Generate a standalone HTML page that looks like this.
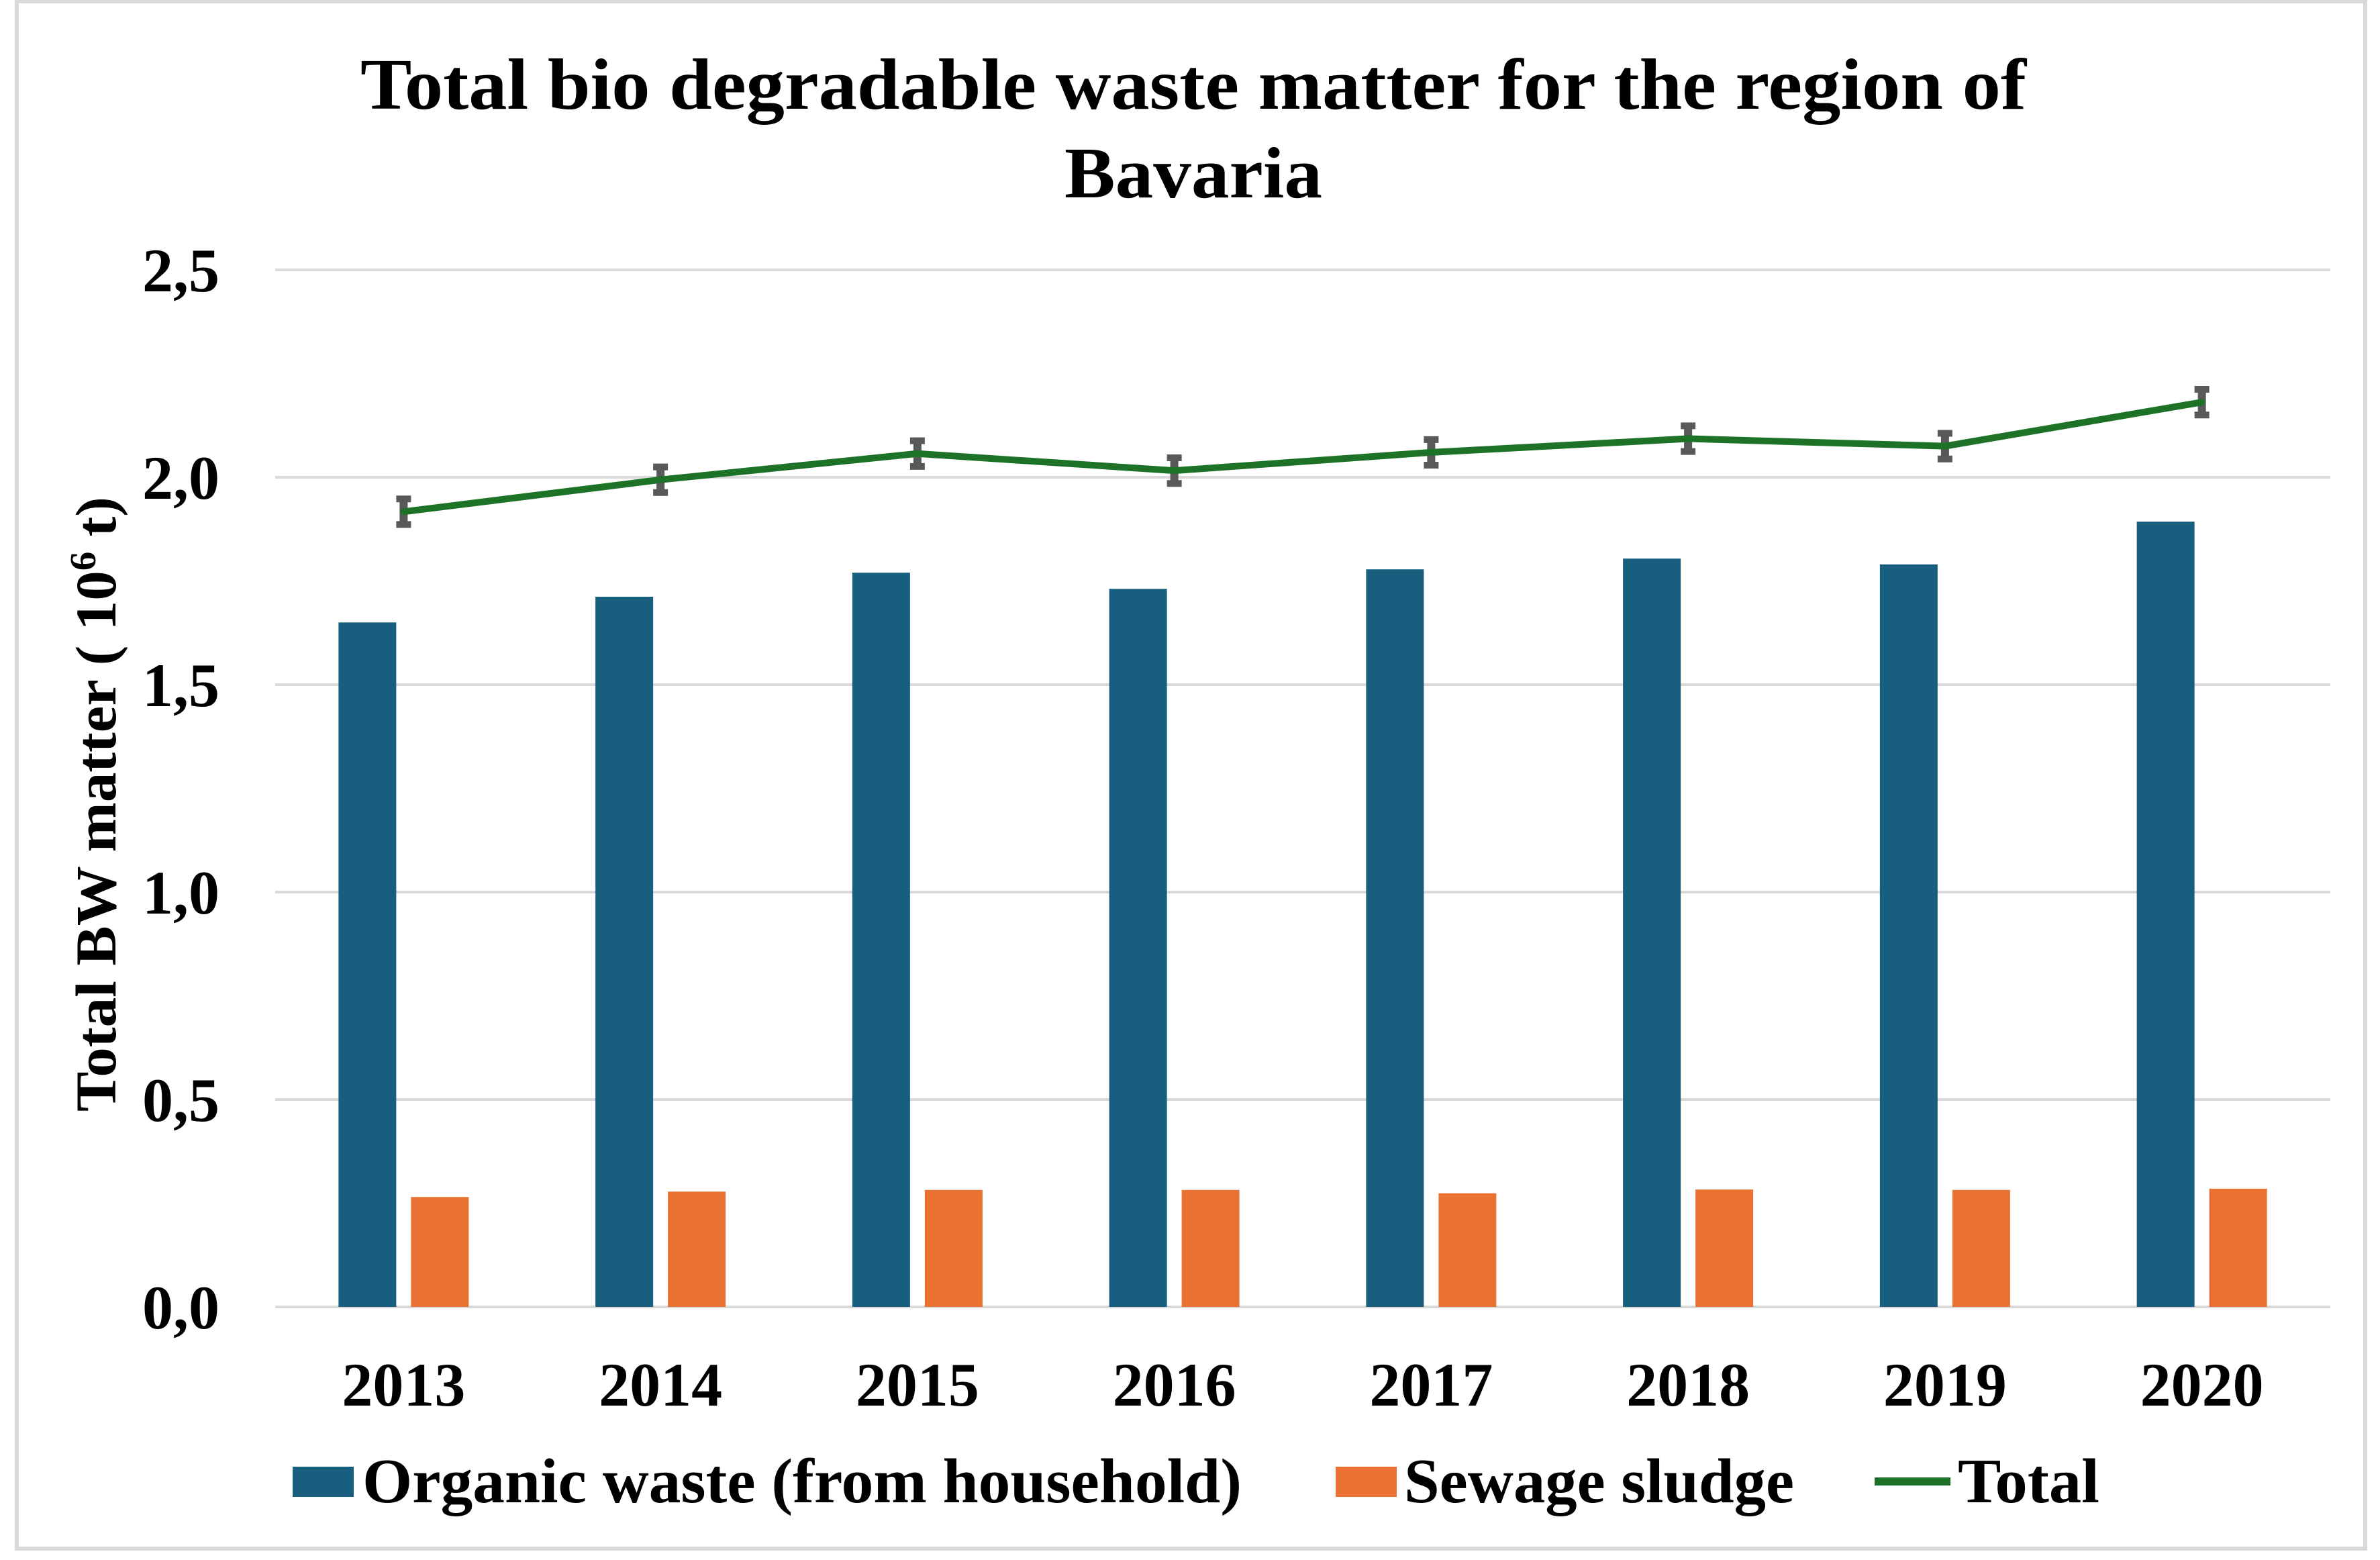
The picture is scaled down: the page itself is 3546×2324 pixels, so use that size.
<!DOCTYPE html>
<html><head><meta charset="utf-8"><style>
html,body{margin:0;padding:0;background:#fff;}
svg{display:block;font-family:"Liberation Serif",serif;font-weight:bold;}
</style></head><body>
<svg id="chart" width="3546" height="2324" viewBox="0 0 3546 2324">
<rect x="25" y="2" width="3499" height="2305" fill="#fff" stroke="#d9d9d9" stroke-width="6"/>
<text x="1778" y="162" font-size="108" text-anchor="middle" textLength="2482" lengthAdjust="spacingAndGlyphs">Total bio degradable waste matter for the region of</text>
<text x="1778" y="294" font-size="108" text-anchor="middle" textLength="384" lengthAdjust="spacingAndGlyphs">Bavaria</text>
<g id="grid"></g><g id="yticks"></g><g id="bars"></g><g id="line"></g><g id="xticks"></g>
<text transform="translate(172,1198) rotate(-90)" font-size="86" text-anchor="middle" textLength="916" lengthAdjust="spacingAndGlyphs">Total BW matter ( 10<tspan baseline-shift="super" font-size="55">6</tspan> t)</text>
<g>
<rect x="436" y="2185" width="91" height="45" fill="#175E7F"/>
<text x="540" y="2238" font-size="94" textLength="1310" lengthAdjust="spacingAndGlyphs">Organic waste (from household)</text>
<rect x="1990" y="2185" width="91" height="45" fill="#E97132"/>
<text x="2092" y="2238" font-size="94" textLength="581" lengthAdjust="spacingAndGlyphs">Sewage sludge</text>
<line x1="2793" y1="2207" x2="2906" y2="2207" stroke="#1E7227" stroke-width="12"/>
<text x="2917" y="2238" font-size="94" textLength="211" lengthAdjust="spacingAndGlyphs">Total</text>
</g>
</svg>
<script>
const categories=["2013","2014","2015","2016","2017","2018","2019","2020"];
const organic=[1.65,1.712,1.77,1.731,1.778,1.804,1.79,1.893];
const sewage=[0.265,0.278,0.282,0.282,0.274,0.283,0.282,0.285];
const total=[1.917,1.994,2.057,2.016,2.06,2.093,2.075,2.181];
const totalErr=[0.039,0.039,0.039,0.039,0.039,0.039,0.039,0.039];
const yTicks=[0,0.5,1.0,1.5,2.0,2.5];
const yTickLabels=["0,0","0,5","1,0","1,5","2,0","2,5"];

const NS="http://www.w3.org/2000/svg";
const L=410,R=3472,T=402,B=1947,yMax=2.5;
const bw=(R-L)/categories.length;
function y(v){return B-(v/yMax)*(B-T);}
function cx(i){return L+bw*(i+0.5);}
function mk(tag,attrs,parent){const e=document.createElementNS(NS,tag);for(const k in attrs)e.setAttribute(k,attrs[k]);document.getElementById(parent).appendChild(e);return e;}

yTicks.forEach((t,i)=>{
  const g=mk('line',{x1:L,x2:R,y1:y(t),y2:y(t),stroke:'#d9d9d9','stroke-width':4},'grid');
  
  
  const tx=mk('text',{x:327,y:y(t)+32,'font-size':92,'text-anchor':'end'},'yticks');
  tx.textContent=yTickLabels[i];
  
  
});
categories.forEach((c,i)=>{
  const b=mk('rect',{x:cx(i)-97,y:y(organic[i]),width:86,height:B-y(organic[i]),fill:'#175E7F'},'bars');
  
  
  const o=mk('rect',{x:cx(i)+11,y:y(sewage[i]),width:86,height:B-y(sewage[i]),fill:'#E97132'},'bars');
  
  
  const tx=mk('text',{x:cx(i),y:2094,'font-size':92,'text-anchor':'middle'},'xticks');
  tx.textContent=c;
  
  
});
const pts=total.map((v,i)=>cx(i)+','+y(v)).join(' ');
const pl=mk('polyline',{points:pts,fill:'none',stroke:'#1E7227','stroke-width':10,'stroke-linejoin':'round','stroke-linecap':'round'},'line');


total.forEach((v,i)=>{
  const x=cx(i),y1=y(v+totalErr[i]),y2=y(v-totalErr[i]);
  const g=mk('path',{d:`M${x-11},${y1}h22v10h-5V${y2-10}h5v10h-22v-10h5V${y1+10}h-5z`,fill:'#595959'},'line');
  
  
});
document.getElementById('line').appendChild(pl);
</script>
</body></html>
